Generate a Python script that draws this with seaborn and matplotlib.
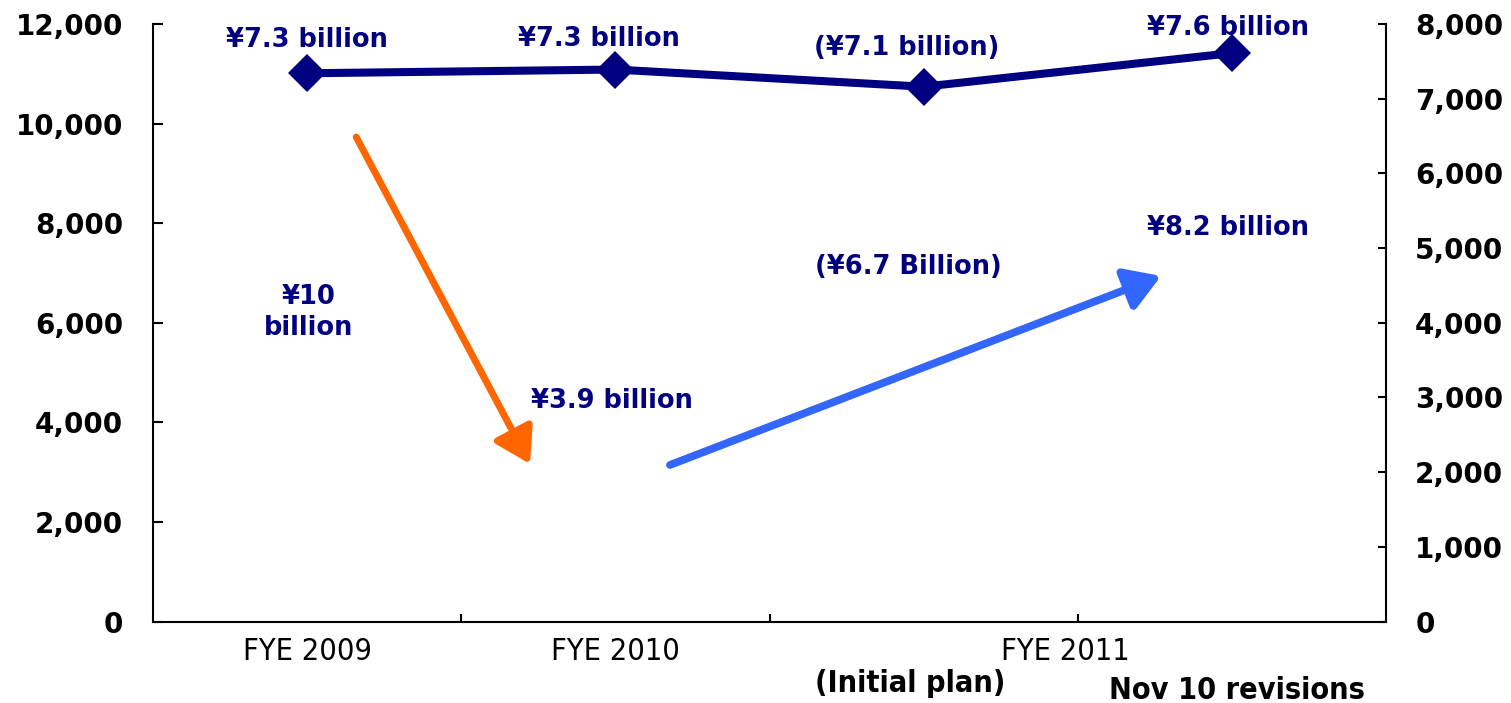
import numpy as np
import pandas as pd
import matplotlib
matplotlib.use("Agg")
import matplotlib.pyplot as plt
import matplotlib.transforms as mtransforms
from matplotlib import font_manager as fm
from matplotlib.patches import ArrowStyle
from matplotlib.ticker import FuncFormatter, MultipleLocator, FixedLocator
import seaborn as sns

# ---- data ---------------------------------------------------------------
periods = ["FYE 2009", "FYE 2010", "FYE 2011 (Initial plan)", "FYE 2011 (Nov 10 revisions)"]
profit_right = [7340, 7390, 7160, 7610]          # line series, right axis (¥ million)
profit_labels = ["¥7.3 billion", "¥7.3 billion", "(¥7.1 billion)", "¥7.6 billion"]

year_ticks = ["FYE 2009", "FYE 2010", "FYE 2011"]
sub_ticks = ["(Initial plan)", "Nov 10 revisions"]

# trend arrows drawn against the left axis: (x_start, y_start, x_end, y_end)
drop_arrow = [0.159, 9730, 0.723, 3165]
rise_arrow = [1.177, 3145, 2.770, 6940]

# free-standing value notes (x, left-axis y, text)
notes_x = [0.006, 0.989, 1.949, 2.987]
notes_y = [6197, 4430, 7120, 7904]
notes_text = ["¥10\nbillion", "¥3.9 billion", "(¥6.7 Billion)", "¥8.2 billion"]

# ---- styling -------------------------------------------------------------
sns.set_theme(style="ticks")
plt.rcParams["font.family"] = ["DejaVu Sans"]
NAVY = "#000080"
ORANGE = "#FF6600"
BLUE = "#3366FF"


def narrow_props(size, weight="normal"):
    """Pick the narrowest installed sans face for the category captions."""
    faces = fm.fontManager.ttflist
    if any(f.name == "Liberation Sans Narrow" for f in faces):
        return fm.FontProperties(family="Liberation Sans Narrow", size=size, weight=weight)
    if any(f.name == "DejaVu Sans" and str(f.stretch) == "condensed" for f in faces):
        return fm.FontProperties(family="DejaVu Sans", stretch="condensed", size=size, weight=weight)
    if any(f.name == "Roboto Condensed" for f in faces):
        return fm.FontProperties(family="Roboto Condensed", size=size, weight=weight)
    return fm.FontProperties(family="Liberation Sans", size=size, weight=weight)


fig = plt.figure(figsize=(15.11, 7.03), dpi=100)
ax = fig.add_axes([0.1013, 0.1158, 0.9173 - 0.1013, 0.9659 - 0.1158])
ax2 = ax.twinx()

x_pos = np.arange(len(periods))
df = pd.DataFrame({"pos": x_pos, "value": profit_right, "period": periods})

sns.lineplot(data=df, x="pos", y="value", ax=ax2, color=NAVY, linewidth=5.8,
             marker="D", markersize=19, markeredgewidth=0, legend=False)

# axis ranges and ticks
ax.set_xlim(-0.5, 3.5)
ax.set_ylim(0, 12000)
ax2.set_ylim(0, 8000)
ax.yaxis.set_major_locator(MultipleLocator(2000))
ax2.yaxis.set_major_locator(MultipleLocator(1000))
fmt = FuncFormatter(lambda v, p: f"{int(v):,}")
ax.yaxis.set_major_formatter(fmt)
ax2.yaxis.set_major_formatter(fmt)

ax.set_xticks([0, 1, 2.46])
ax.set_xticklabels(year_ticks)
ax.xaxis.set_minor_locator(FixedLocator([0.5, 1.5, 2.5]))
ax.tick_params(axis="x", which="major", length=0, pad=11, colors="black")
ax.tick_params(axis="x", which="minor", direction="in", length=6, width=1.5, color="black")
tick_fp = narrow_props(22)
for t in ax.get_xticklabels():
    t.set_fontproperties(tick_fp)

ax.tick_params(axis="y", direction="in", length=7, width=1.5, pad=21.5,
               labelsize=20, colors="black")
ax2.tick_params(axis="y", direction="in", length=6, width=1.5, pad=21,
                labelsize=20, colors="black")
for t in ax.get_yticklabels() + ax2.get_yticklabels():
    t.set_fontweight("bold")

for a in (ax, ax2):
    a.set_xlabel("")
    a.set_ylabel("")
    a.spines["top"].set_visible(False)
    for s in ("left", "right", "bottom"):
        a.spines[s].set_linewidth(1.5)
        a.spines[s].set_color("black")
    a.grid(False)
ax.spines["right"].set_visible(False)
ax2.spines["left"].set_visible(False)
ax2.spines["bottom"].set_visible(False)

# labels over the line markers (offsets in points from each marker)
label_dx = [0, -12, -12, -3]
label_dy = [24, 22, 28, 18]
for xp, v, lab, dx, dy in zip(x_pos, profit_right, profit_labels, label_dx, label_dy):
    ax2.annotate(lab, (xp, v), xytext=(dx, dy), textcoords="offset points",
                 ha="center", va="center", fontsize=18.5, fontweight="bold", color=NAVY)

# trend arrows
for arr, col, lw in ((drop_arrow, ORANGE, 5.0), (rise_arrow, BLUE, 5.6)):
    ax.annotate("", xy=(arr[2], arr[3]), xytext=(arr[0], arr[1]),
                arrowprops=dict(arrowstyle=ArrowStyle("-|>", head_length=21, head_width=13),
                                mutation_scale=1, color=col, lw=lw,
                                shrinkA=0, shrinkB=0))

for xn, yn, tx in zip(notes_x, notes_y, notes_text):
    ax.text(xn, yn, tx, ha="center", va="center", fontsize=18.5, fontweight="bold",
            color=NAVY, linespacing=1.25)

# secondary category captions under FYE 2011
trans = mtransforms.blended_transform_factory(ax.transData, ax.transAxes)
sub_fp = narrow_props(22, weight="bold")
ax.text(1.957, -0.104, sub_ticks[0], transform=trans, ha="center", va="center",
        fontproperties=sub_fp, color="black")
ax.text(3.017, -0.1145, sub_ticks[1], transform=trans, ha="center", va="center",
        fontproperties=sub_fp, color="black")

fig.savefig("out.png", dpi=100, facecolor="white")
